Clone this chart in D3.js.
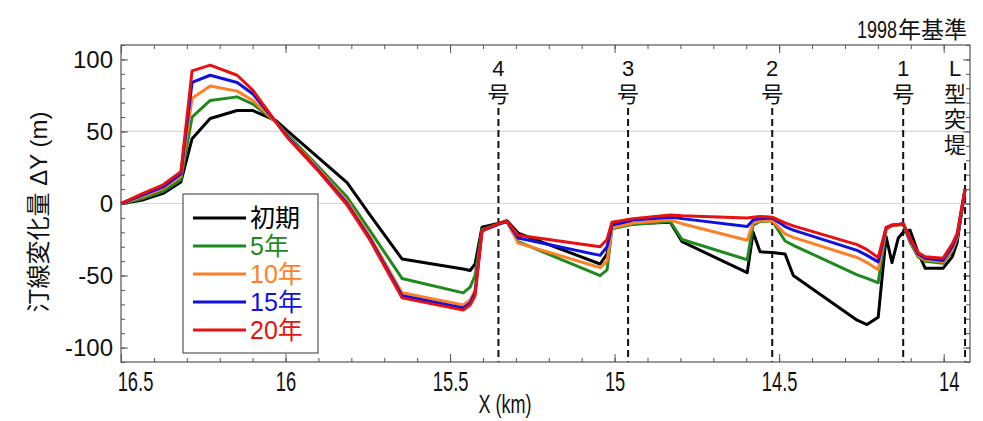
<!DOCTYPE html>
<html>
<head>
<meta charset="utf-8">
<script src="https://cdn.jsdelivr.net/npm/d3@7"></script>
<style>
  body { margin: 0; background: #fff; overflow: hidden; }
</style>
</head>
<body>
<div id="chart"></div>
<script>
// alongshore position X (km) and shoreline change dY (m)
const xKm = [16.5, 16.433, 16.372, 16.318, 16.284, 16.229, 16.147, 16.099, 16.029, 15.995,
  15.904, 15.813, 15.743, 15.646, 15.46, 15.439, 15.424, 15.403, 15.348, 15.327,
  15.293, 15.044, 15.023, 15.008, 14.944, 14.831, 14.795, 14.597, 14.579, 14.558,
  14.521, 14.482, 14.457, 14.263, 14.233, 14.199, 14.175, 14.157, 14.138, 14.123,
  14.102, 14.078, 14.056, 14.002, 13.974, 13.959, 13.935];

const initial = [0, 2.5, 7, 15, 45, 59, 64.5, 64.5, 57.5, 50.5,
  32.5, 14.5, -8, -38.5, -45.5, -46.5, -42, -16.5, -13.5, -12,
  -20.5, -42, -35, -14, -14, -13, -26.5, -48, -20, -33.5,
  -34, -35, -50, -81, -84, -79, -23, -41, -24, -20,
  -18.5, -34, -45, -45, -37, -27, 10];
const year5 = [0, 3.5, 8.5, 16.5, 60, 71.5, 74, 69, 56.5, 48,
  26.5, 4.5, -19, -52, -62, -58, -50, -18, -14, -12.5,
  -26.5, -50, -46, -17.5, -14.5, -12.5, -25, -39, -15, -12.5,
  -12, -26, -29, -49.5, -52, -55, -18, -15.5, -15, -14.5,
  -27, -37, -40, -41.5, -33, -24, 10];
const year10 = [0, 5, 10.5, 19, 73, 81.5, 78, 71.5, 56.5, 47,
  25, 1.5, -23, -62, -70.5, -67, -60, -19, -14, -12.5,
  -27.5, -44.5, -40, -17, -13.5, -11.5, -14, -25.5, -13.5, -12,
  -12, -21, -23.5, -37.5, -41, -46, -17.5, -15.5, -15, -14,
  -26, -36, -39, -40.5, -32, -23, 10];
const year15 = [0, 6, 11.5, 20.5, 84, 89, 84, 76, 56.5, 46.5,
  24, 0, -24.5, -64, -72.5, -69, -62, -19, -14, -12.5,
  -24, -36, -30, -15, -11.5, -9.5, -10.5, -16, -11.5, -10.5,
  -10, -16, -18.5, -32.5, -36, -40.5, -17, -15, -14.5, -14,
  -25, -35, -38, -39.5, -30, -22, 10];
const year20 = [0, 7, 13, 22, 92, 96, 89, 78.5, 56.5, 46,
  23.5, -1, -25.5, -65.5, -74, -70.5, -64, -19, -13.5, -12.5,
  -22, -30, -25, -13, -10.5, -8, -8.5, -10, -9.5, -9,
  -9.5, -13.5, -15.5, -28.5, -32, -37.5, -16.5, -15, -14.5, -14,
  -24, -34, -37, -38, -28, -21, 10];

const seriesNames = ["初期", "5年", "10年", "15年", "20年"];
const seriesColors = ["#000000", "#1e8a1e", "#ff7f27", "#1010e0", "#e81010"];
const seriesValues = [initial, year5, year10, year15, year20];

// structures (groynes and L-shaped breakwater)
const structX = [15.353, 14.959, 14.521, 14.123, 13.935];
const structLabels = [["4", "号"], ["3", "号"], ["2", "号"], ["1", "号"], ["L", "型", "突", "堤"]];

const xTicks = [16.5, 16, 15.5, 15, 14.5, 14];
const yTicks = [-100, -50, 0, 50, 100];
const gridY = [0, 50];

const W = 983, H = 421;
const margin = {left: 121, right: 970, top: 45, bottom: 362};

const regular = "'Liberation Sans', Arial, 'Noto Sans CJK JP', sans-serif";

const svg = d3.select("#chart")
    .append("svg")
    .attr("width", W)
    .attr("height", H)
    .style("display", "block");

const x = d3.scaleLinear().domain([16.5, 13.92]).range([margin.left, margin.right]);
const y = d3.scaleLinear().domain([-110, 110]).range([margin.bottom, margin.top]);

// light grid lines
svg.append("g")
    .selectAll("line")
    .data(gridY)
    .join("line")
    .attr("x1", margin.left).attr("x2", margin.right)
    .attr("y1", d => y(d)).attr("y2", d => y(d))
    .attr("stroke", "#d6d6d6")
    .attr("stroke-width", 1.2);

// minor + major ticks, all pointing inward
const minorX = d3.range(140, 166).map(d => d / 10);
const minorY = d3.range(-11, 12).map(d => d * 10);

function tickStyle(g) {
    g.select(".domain").remove();
    g.selectAll("line").attr("stroke", "#555").attr("stroke-width", 1);
}

svg.append("g").attr("transform", `translate(0,${margin.bottom})`)
    .call(d3.axisBottom(x).tickValues(minorX).tickSize(-4).tickFormat(""))
    .call(tickStyle);
svg.append("g").attr("transform", `translate(0,${margin.top})`)
    .call(d3.axisTop(x).tickValues(minorX).tickSize(-4).tickFormat(""))
    .call(tickStyle);
svg.append("g").attr("transform", `translate(0,${margin.top})`)
    .call(d3.axisTop(x).tickValues(xTicks).tickSize(-8).tickFormat(""))
    .call(tickStyle);
svg.append("g").attr("transform", `translate(${margin.left},0)`)
    .call(d3.axisLeft(y).tickValues(minorY).tickSize(-4).tickFormat(""))
    .call(tickStyle);
svg.append("g").attr("transform", `translate(${margin.right},0)`)
    .call(d3.axisRight(y).tickValues(minorY).tickSize(-4).tickFormat(""))
    .call(tickStyle);
svg.append("g").attr("transform", `translate(${margin.right},0)`)
    .call(d3.axisRight(y).tickValues(yTicks).tickSize(-7).tickFormat(""))
    .call(tickStyle);

// labelled axes (x labels are condensed in the original)
const xAxis = svg.append("g").attr("transform", `translate(0,${margin.bottom})`)
    .call(d3.axisBottom(x).tickValues(xTicks).tickSize(-8).tickPadding(10).tickFormat(d => String(d)))
    .call(tickStyle);
xAxis.selectAll("text")
    .attr("font-family", regular)
    .attr("font-size", "27px")
    .attr("fill", "#111")
    .attr("transform", d => `translate(${d === 16.5 ? 14 : d === 14 ? 5 : 0},0) scale(0.68,1)`);

const yAxis = svg.append("g").attr("transform", `translate(${margin.left},0)`)
    .call(d3.axisLeft(y).tickValues(yTicks).tickSize(-7).tickPadding(8).tickFormat(d => String(d)))
    .call(tickStyle);
yAxis.selectAll("text")
    .attr("font-family", regular)
    .attr("font-size", "24px")
    .attr("fill", "#111");

// structure positions
svg.append("g")
    .selectAll("line")
    .data(structX)
    .join("line")
    .attr("x1", d => x(d)).attr("x2", d => x(d))
    .attr("y1", (d, i) => i === 4 ? 163 : 108)
    .attr("y2", margin.bottom)
    .attr("stroke", "#111")
    .attr("stroke-width", 2)
    .attr("stroke-dasharray", "7,4");

structX.forEach((sx, i) => {
    const cx = i === 4 ? x(sx) - 10 : x(sx);
    svg.append("text")
        .attr("text-anchor", "middle")
        .attr("font-family", regular)
        .attr("font-size", "22px")
        .attr("fill", "#111")
        .selectAll("tspan")
        .data(structLabels[i])
        .join("tspan")
        .attr("x", cx)
        .attr("y", (d, j) => 76 + j * 25.5)
        .text(d => d);
});

// lines
const line = d3.line()
    .x((d, i) => x(xKm[i]))
    .y(d => y(d));

svg.append("g")
    .selectAll("path")
    .data(seriesValues)
    .join("path")
    .attr("d", d => line(d))
    .attr("fill", "none")
    .attr("stroke", (d, i) => seriesColors[i])
    .attr("stroke-width", 3)
    .attr("stroke-linejoin", "round");

// frame
svg.append("rect")
    .attr("x", margin.left).attr("y", margin.top)
    .attr("width", margin.right - margin.left).attr("height", margin.bottom - margin.top)
    .attr("fill", "none")
    .attr("stroke", "#555")
    .attr("stroke-width", 1.2);

// legend
const legend = svg.append("g");
legend.append("rect")
    .attr("x", 183).attr("y", 194)
    .attr("width", 135).attr("height", 159)
    .attr("fill", "#fff")
    .attr("stroke", "#555")
    .attr("stroke-width", 1.2);
const rows = legend.selectAll("g.row")
    .data(seriesNames)
    .join("g")
    .attr("class", "row")
    .attr("transform", (d, i) => `translate(0,${218 + i * 28})`);
rows.append("line")
    .attr("x1", 193).attr("x2", 246)
    .attr("stroke", (d, i) => seriesColors[i])
    .attr("stroke-width", 3);
rows.append("text")
    .attr("x", 250)
    .attr("dy", "0.36em")
    .attr("font-family", regular)
    .attr("font-size", "25px")
    .attr("fill", (d, i) => seriesColors[i])
    .text(d => d);

// titles: condensed year digits + normal kanji
svg.append("text")
    .attr("x", 967).attr("y", 38)
    .attr("text-anchor", "end")
    .attr("font-family", regular)
    .attr("font-size", "23px")
    .attr("fill", "#111")
    .text("年基準");
svg.append("text")
    .attr("transform", "translate(897,38) scale(0.75,1)")
    .attr("text-anchor", "end")
    .attr("font-family", regular)
    .attr("font-size", "24px")
    .attr("fill", "#111")
    .text("1998");

svg.append("text")
    .attr("transform", "translate(505,413) scale(0.72,1)")
    .attr("text-anchor", "middle")
    .attr("font-family", regular)
    .attr("font-size", "25px")
    .attr("fill", "#111")
    .text("X (km)");

svg.append("text")
    .attr("transform", "translate(38,212) rotate(-90)")
    .attr("text-anchor", "middle")
    .attr("dy", "0.36em")
    .attr("font-family", regular)
    .attr("font-size", "24px")
    .attr("fill", "#111")
    .text("汀線変化量  ΔY (m)");
</script>
</body>
</html>
